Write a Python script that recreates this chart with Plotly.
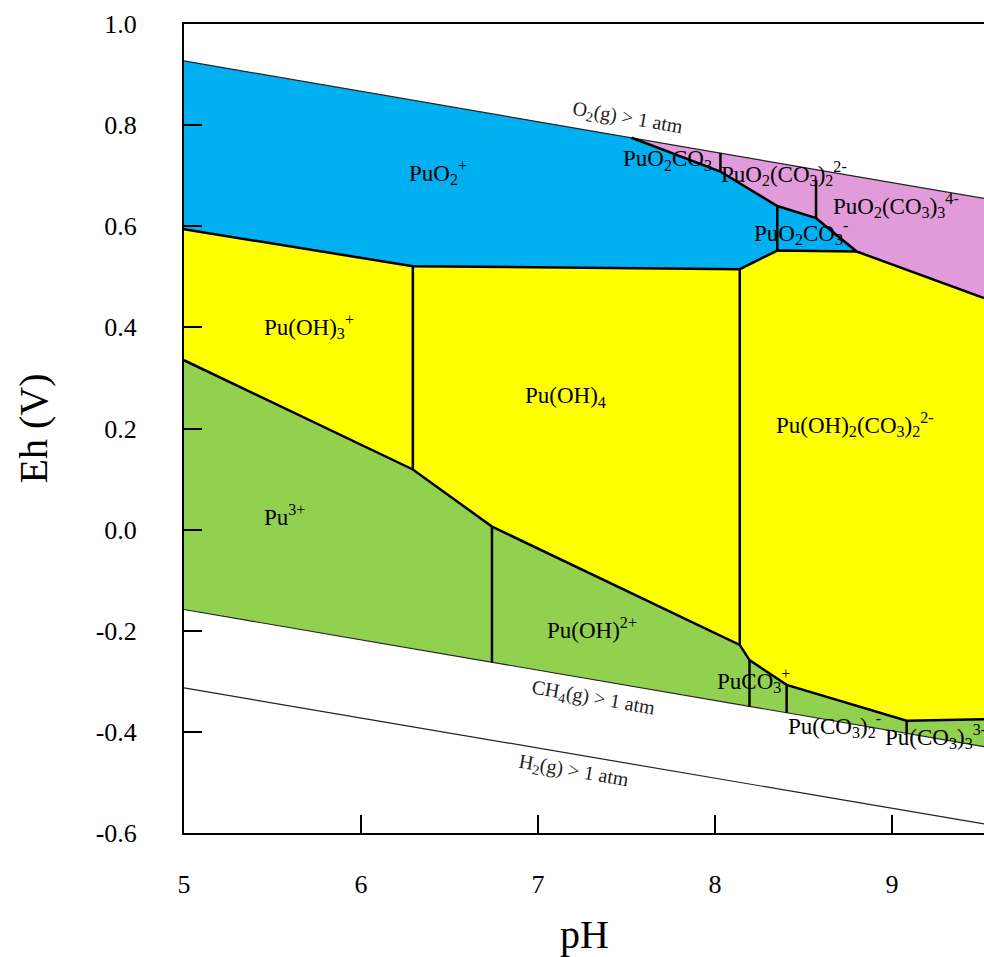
import plotly.graph_objects as go

# ---------------- data (pH, Eh in V) ----------------
X_MIN, X_MAX = 5.0, 9.52
Y_MIN, Y_MAX = -0.6, 1.0

x_ticks = [5, 6, 7, 8, 9]
y_ticks = [-0.6, -0.4, -0.2, 0.0, 0.2, 0.4, 0.6, 0.8, 1.0]
y_tick_text = ["-0.6", "-0.4", "-0.2", "0.0", "0.2", "0.4", "0.6", "0.8", "1.0"]

# water / gas stability lines
o2_x = [5.0, 9.52]
o2_y = [0.927, 0.655]
ch4_x = [5.0, 9.52]
ch4_y = [-0.158, -0.429]
h2_x = [5.0, 9.52]
h2_y = [-0.313, -0.582]

# predominance field polygons
blue_x = [5.0, 7.529, 8.031, 8.352, 8.571, 8.801, 8.352, 8.140, 6.293, 5.0]
blue_y = [0.927, 0.775, 0.708, 0.640, 0.616, 0.550, 0.552, 0.515, 0.521, 0.594]

pink_x = [7.529, 9.52, 9.52, 8.801, 8.571, 8.352, 8.031, 7.529]
pink_y = [0.775, 0.655, 0.458, 0.550, 0.616, 0.640, 0.708, 0.775]

yellow_x = [5.0, 6.293, 8.140, 8.352, 8.801, 9.52, 9.52, 9.083, 8.405, 8.195, 8.140, 6.740, 6.293, 5.0]
yellow_y = [0.594, 0.521, 0.515, 0.552, 0.550, 0.458, -0.375, -0.378, -0.307, -0.258, -0.228, 0.006, 0.119, 0.335]

green_x = [5.0, 6.293, 6.740, 8.140, 8.195, 8.405, 9.083, 9.52, 9.52, 5.0]
green_y = [0.335, 0.119, 0.006, -0.228, -0.258, -0.307, -0.378, -0.375, -0.429, -0.158]

# thick boundary lines (each a polyline)
boundaries = [
    ([5.0, 6.293, 8.140, 8.352, 8.801], [0.594, 0.521, 0.515, 0.552, 0.550]),
    ([7.529, 8.031, 8.352, 8.571, 8.801, 9.52], [0.775, 0.708, 0.640, 0.616, 0.550, 0.458]),
    ([5.0, 6.293, 6.740, 8.140, 8.195, 8.405, 9.083, 9.52], [0.335, 0.119, 0.006, -0.228, -0.258, -0.307, -0.378, -0.375]),
    ([8.031, 8.031], [0.745, 0.708]),
    ([8.352, 8.352], [0.640, 0.552]),
    ([8.571, 8.571], [0.692, 0.616]),
    ([6.293, 6.293], [0.521, 0.119]),
    ([6.740, 6.740], [0.006, -0.262]),
    ([8.140, 8.140], [0.515, -0.228]),
    ([8.195, 8.195], [-0.258, -0.350]),
    ([8.405, 8.405], [-0.307, -0.362]),
    ([9.083, 9.083], [-0.378, -0.403]),
]

# species labels
label_text = [
    "PuO<sub>2</sub><sup>+</sup>",
    "PuO<sub>2</sub>CO<sub>3</sub>",
    "PuO<sub>2</sub>(CO<sub>3</sub>)<sub>2</sub><sup>2-</sup>",
    "PuO<sub>2</sub>(CO<sub>3</sub>)<sub>3</sub><sup>4-</sup>",
    "PuO<sub>2</sub>CO<sub>3</sub><sup>-</sup>",
    "Pu(OH)<sub>3</sub><sup>+</sup>",
    "Pu(OH)<sub>4</sub>",
    "Pu(OH)<sub>2</sub>(CO<sub>3</sub>)<sub>2</sub><sup>2-</sup>",
    "Pu<sup>3+</sup>",
    "Pu(OH)<sup>2+</sup>",
    "PuCO<sub>3</sub><sup>+</sup>",
    "Pu(CO<sub>3</sub>)<sub>2</sub><sup>-</sup>",
    "Pu(CO<sub>3</sub>)<sub>3</sub><sup>3-</sup>",
]
label_x = [6.435, 7.734, 8.390, 9.023, 8.486, 5.706, 7.153, 8.791, 5.565, 7.305, 8.220, 8.678, 8.949]
label_y = [0.707, 0.731, 0.705, 0.642, 0.587, 0.401, 0.262, 0.207, 0.027, -0.195, -0.298, -0.387, -0.410]
label_anchor = ["center"] * 12 + ["left"]

gas_text = ["O<sub>2</sub>(g) > 1 atm", "CH<sub>4</sub>(g) > 1 atm", "H<sub>2</sub>(g) > 1 atm"]
gas_x = [7.508, 7.311, 7.203]
gas_y = [0.814, -0.333, -0.479]

# ---------------- figure ----------------
FONT = "Liberation Serif"
fig = go.Figure()

def fill(xs, ys, color):
    fig.add_trace(go.Scatter(x=xs, y=ys, mode="lines", fill="toself", fillcolor=color,
                             line=dict(width=0, color=color), hoverinfo="skip", showlegend=False))

fill(blue_x, blue_y, "#00B0F0")
fill(pink_x, pink_y, "#E29BDA")
fill(yellow_x, yellow_y, "#FFFF00")
fill(green_x, green_y, "#92D050")

for xs, ys in [(o2_x, o2_y), (ch4_x, ch4_y), (h2_x, h2_y)]:
    fig.add_trace(go.Scatter(x=xs, y=ys, mode="lines", line=dict(color="#222222", width=1.2),
                             hoverinfo="skip", showlegend=False))

for xs, ys in boundaries:
    fig.add_trace(go.Scatter(x=xs, y=ys, mode="lines", line=dict(color="black", width=2.5),
                             hoverinfo="skip", showlegend=False))

for t, x, y, a in zip(label_text, label_x, label_y, label_anchor):
    fig.add_annotation(x=x, y=y, text=t, showarrow=False, xanchor=a, yanchor="middle",
                       font=dict(family=FONT, size=23, color="black"))

for t, x, y in zip(gas_text, gas_x, gas_y):
    fig.add_annotation(x=x, y=y, text=t, showarrow=False, textangle=9.8,
                       font=dict(family=FONT, size=20, color="#222222"))

# axis titles
fig.add_annotation(xref="paper", yref="paper", x=0.5, y=(833 - 934) / 809, text="pH",
                   showarrow=False, xanchor="center", yanchor="middle",
                   font=dict(family=FONT, size=40, color="black"))
fig.add_annotation(xref="paper", yref="paper", x=(33 - 184) / 800, y=0.5, text="Eh (V)",
                   showarrow=False, textangle=-90, xanchor="center", yanchor="middle",
                   font=dict(family=FONT, size=40, color="black"))

fig.update_layout(
    width=984, height=957,
    margin=dict(l=184, r=0, t=24, b=124),
    paper_bgcolor="white", plot_bgcolor="white",
    font=dict(family=FONT, color="black"),
    showlegend=False,
    xaxis=dict(range=[X_MIN, X_MAX], tickvals=x_ticks, ticks="inside", ticklen=18, tickwidth=2,
               tickcolor="black", showline=True, linecolor="black", linewidth=2, mirror=True,
               showgrid=False, zeroline=False, ticklabelstandoff=27,
               tickfont=dict(family=FONT, size=26, color="black")),
    yaxis=dict(range=[Y_MIN, Y_MAX], tickvals=y_ticks, ticktext=y_tick_text, ticks="inside",
               ticklen=18, tickwidth=2, tickcolor="black", showline=True, linecolor="black",
               linewidth=2, mirror=False, showgrid=False, zeroline=False, ticklabelstandoff=40,
               tickfont=dict(family=FONT, size=26, color="black")),
)

fig.write_html("out.html")
